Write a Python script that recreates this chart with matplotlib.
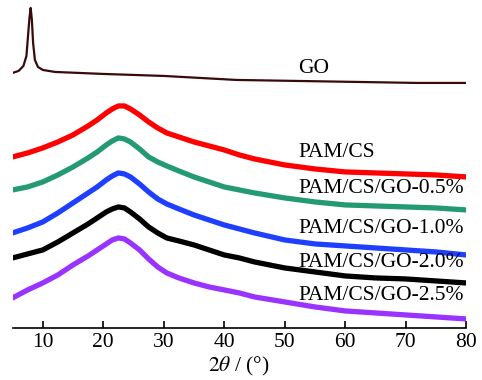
import matplotlib
matplotlib.use('Agg')
import matplotlib.pyplot as plt

# heights (arbitrary units, stacked traces)
x_go = [5, 6, 6.8, 7.3, 7.6, 7.8, 8.0, 8.2, 8.4, 8.7, 9.2, 10, 12, 20, 30, 42, 52, 62, 72, 80]
y_go = [255, 257, 262, 272, 295, 310, 320, 308, 285, 268, 261, 258, 256, 254, 252, 248, 247, 246, 245, 245]

x_amor = [5, 7.5, 10, 12.5, 15, 17.5, 19, 20.5, 21.5, 22.5, 23.5, 24.5, 26, 27.5, 29,
          30.5, 32.5, 35, 37.5, 40, 42.5, 45, 50, 55, 60, 65, 70, 75, 80]
y_pamcs = [171, 175, 180, 186, 193, 202, 208, 215, 219, 222, 222, 219, 213, 206, 200,
           195, 191, 186, 182, 178, 173, 169, 163, 159, 156, 155, 154, 153, 151]
y_go05 = [138, 141, 146, 153, 161, 170, 176, 183, 187, 190, 189, 186, 179, 171, 166,
          162, 157, 151, 146, 141, 138, 135, 130, 126, 123, 122, 121, 120, 118]
y_go10 = [95, 100, 106, 115, 125, 135, 141, 148, 152, 155, 154, 151, 144, 136, 129,
          124, 119, 113, 108, 103, 99, 95, 88, 84, 82, 80, 78, 76, 73]
y_go20 = [70, 74, 78, 86, 95, 104, 110, 116, 119, 121, 120, 116, 109, 101, 95,
          90, 87, 83, 78, 73, 70, 66, 60, 56, 52, 50, 49, 47, 45]
y_go25 = [30, 38, 45, 53, 63, 72, 78, 84, 88, 90, 89, 85, 78, 69, 61,
          55, 50, 45, 41, 38, 35, 31, 26, 21, 17, 15, 13, 11, 9]

labels = ['GO', 'PAM/CS', 'PAM/CS/GO-0.5%', 'PAM/CS/GO-1.0%',
          'PAM/CS/GO-2.0%', 'PAM/CS/GO-2.5%']
label_y = [250, 166, 130, 90, 56, 23]
colors = ['#3a0a0a', '#ff0000', '#249a72', '#1f3fff', '#000000', '#9933ff']

plt.rcParams['font.family'] = ['Liberation Serif', 'DejaVu Serif']
plt.rcParams['mathtext.fontset'] = 'stix'

fig = plt.figure(figsize=(4.82, 3.8), dpi=100)
ax = fig.add_axes([0.026, 0.137, 0.941, 0.85])

ax.plot(x_go, y_go, color=colors[0], lw=1.6)
for ys, c in zip([y_pamcs, y_go05, y_go10, y_go20, y_go25], colors[1:]):
    ax.plot(x_amor, ys, color=c, lw=3.8, solid_joinstyle='round')

for lab, yl in zip(labels, label_y):
    ax.text(52.3, yl, lab, fontsize=15.5, va='bottom', ha='left')

ax.set_xlim(5, 80)
ax.set_ylim(0, 323)
ax.set_xticks([10, 20, 30, 40, 50, 60, 70, 80])
ax.set_yticks([])
for s in ['left', 'right', 'top']:
    ax.spines[s].set_visible(False)
ax.spines['bottom'].set_linewidth(1.2)
ax.tick_params(axis='x', direction='in', length=5, width=1.2, labelsize=15.5, pad=4)
ax.set_xlabel(r'$\mathit{2\theta}$ / (°)', fontsize=15.5, labelpad=2)

plt.savefig('out.png', dpi=100)
